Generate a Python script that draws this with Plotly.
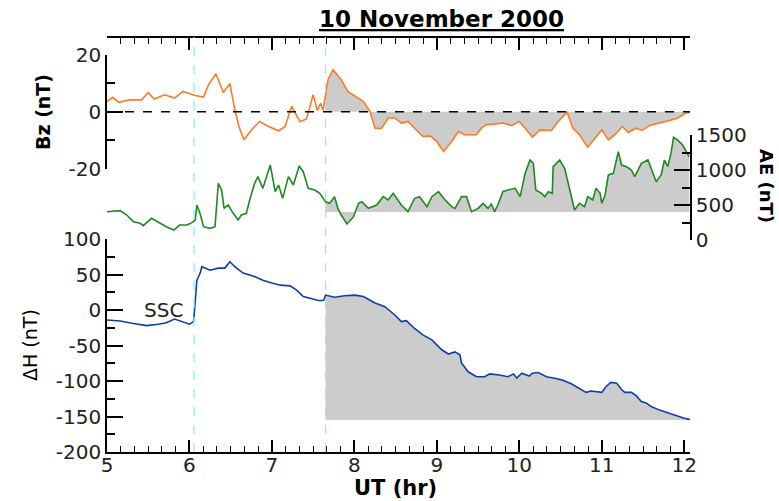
import plotly.graph_objects as go

# --- data (UT hours) --------------------------------------------------------
BZ_T = [5.00, 5.07, 5.14, 5.28, 5.42, 5.50, 5.57, 5.70, 5.82, 5.92, 6.07, 6.17,
        6.23, 6.32, 6.41, 6.49, 6.55, 6.60, 6.66, 6.75, 6.85, 6.96, 7.08, 7.16,
        7.24, 7.29, 7.34, 7.42, 7.50, 7.55, 7.59, 7.62, 7.65, 7.68, 7.74, 7.84,
        7.92, 8.01, 8.11, 8.19, 8.25, 8.33, 8.41, 8.49, 8.57, 8.65, 8.75, 8.83,
        8.92, 9.00, 9.08, 9.18, 9.26, 9.34, 9.48, 9.54, 9.60, 9.70, 9.80, 9.91,
        10.00, 10.07, 10.16, 10.25, 10.39, 10.47, 10.58, 10.65, 10.73, 10.83,
        10.92, 11.00, 11.08, 11.16, 11.25, 11.32, 11.41, 11.49, 11.58, 11.70,
        11.82, 11.92, 12.00, 12.07]
BZ_NT = [3.6, 5.1, 3.3, 4.2, 4.2, 6.8, 4.5, 6.0, 4.8, 7.2, 5.7, 5.2,
         9.5, 13.4, 6.8, 9.9, 0.7, -5.2, -9.9, -6.4, -3.4, -5.2, -6.7, -5.2,
         1.9, -1.0, -3.5, -2.5, 6.0, 0.5, 3.0, 0.5, 6.0, 11.3, 14.8, 11.3,
         7.2, 5.4, 3.6, 0.1, -5.8, -5.8, -2.2, -2.2, -4.0, -3.4, -6.4, -8.7,
         -8.5, -10.5, -14.0, -10.5, -7.0, -8.1, -8.1, -5.8, -4.6, -4.3, -4.0, -4.9,
         -3.4, -5.8, -8.9, -6.4, -6.6, -3.4, -0.2, -5.8, -8.1, -12.5,
         -9.3, -6.4, -9.9, -8.1, -5.2, -7.3, -5.8, -6.6, -4.8, -4.0,
         -3.1, -2.2, -0.7, -0.2]

AE_T = [5.00, 5.16, 5.24, 5.32, 5.40, 5.44, 5.54, 5.64, 5.72, 5.81, 5.88, 5.97,
        6.03, 6.07, 6.09, 6.13, 6.17, 6.25, 6.31, 6.35, 6.39, 6.42, 6.47, 6.53,
        6.59, 6.63, 6.69, 6.73, 6.79, 6.83, 6.89, 6.98, 7.04, 7.08, 7.13, 7.20,
        7.26, 7.33, 7.38, 7.44, 7.52, 7.58, 7.65, 7.70, 7.76, 7.80, 7.84, 7.91,
        7.99, 8.05, 8.09, 8.17, 8.27, 8.35, 8.41, 8.47, 8.57, 8.65, 8.73, 8.79,
        8.88, 8.94, 9.02, 9.10, 9.18, 9.22, 9.30, 9.36, 9.42, 9.50, 9.56, 9.62,
        9.66, 9.70, 9.74, 9.80, 9.86, 9.95, 10.01, 10.07, 10.13, 10.17, 10.20,
        10.27, 10.31, 10.35, 10.40, 10.41, 10.49, 10.55, 10.61, 10.67, 10.73,
        10.79, 10.83, 10.89, 10.93, 10.98, 11.00, 11.04, 11.08, 11.14, 11.20,
        11.24, 11.30, 11.36, 11.40, 11.48, 11.56, 11.62, 11.66, 11.72, 11.76,
        11.80, 11.84, 11.87, 11.92, 11.98, 12.06]
AE_NT = [404, 419, 357, 262, 238, 205, 310, 238, 190, 143, 214, 214,
         248, 286, 500, 371, 190, 167, 190, 810, 714, 452, 500, 381,
         286, 357, 381, 571, 810, 905, 738, 1071, 690, 786, 595, 905,
         786, 1057, 976, 738, 714, 667, 545, 524, 619, 452, 357, 229,
         333, 524, 548, 452, 500, 619, 571, 667, 500, 405, 595, 619,
         476, 619, 690, 571, 476, 452, 619, 619, 405, 452, 524, 452,
         514, 405, 500, 690, 714, 738, 619, 952, 1143, 1095, 714,
         667, 619, 690, 667, 1048, 1143, 1024, 738, 429, 524,
         476, 619, 571, 738, 667, 524, 643, 929, 952, 1262,
         1071, 1048, 1000, 905, 1095, 1143, 952, 833, 929, 1143,
         1048, 1238, 1467, 1429, 1357, 1190]

DH_T = [5.00, 5.16, 5.32, 5.48, 5.62, 5.72, 5.82, 5.91, 6.00, 6.05, 6.07, 6.09,
        6.13, 6.15, 6.25, 6.35, 6.43, 6.49, 6.55, 6.65, 6.77, 6.89, 7.00, 7.10,
        7.22, 7.30, 7.38, 7.48, 7.58, 7.63, 7.65, 7.76, 7.88, 8.01, 8.11, 8.25,
        8.37, 8.49, 8.57, 8.63, 8.73, 8.83, 8.94, 9.06, 9.14, 9.22, 9.28, 9.30,
        9.38, 9.48, 9.58, 9.64, 9.76, 9.86, 9.93, 9.97, 10.03, 10.12, 10.16,
        10.23, 10.33, 10.43, 10.53, 10.63, 10.71, 10.81, 10.87, 11.00, 11.05,
        11.11, 11.18, 11.24, 11.28, 11.36, 11.42, 11.48, 11.54, 11.60, 11.70,
        11.82, 11.92, 12.00, 12.07]
DH_NT = [-14, -15.5, -19, -22, -20, -18, -12.7, -16.4, -20, -16.4, 14, 42,
         52, 61, 56, 59, 59, 68, 61, 52, 48, 42, 38, 35,
         34, 28, 19, 16.5, 13, 14, 21, 18, 20, 21, 19, 10,
         4.7, -7, -16.4, -15, -26, -35, -42, -56, -62, -59, -63, -75,
         -87, -94, -94, -90, -91.5, -94, -90, -96, -89, -93, -89,
         -88, -94, -96, -99, -104, -109, -116, -114, -116, -108,
         -102, -103, -112, -116, -116, -121, -129, -131, -136, -141,
         -146, -150, -152.5, -154]

EVENT_TIMES = [6.055, 7.65]     # SSC and start of shaded interval
FILL_START = 7.65
BZ_BASE = 0
AE_BASE = 400
DH_BASE = -155

X_RANGE = [5, 12.07]
BZ_TICKS = [-20, 0, 20]
AE_TICKS = [0, 500, 1000, 1500]
DH_TICKS = [-200, -150, -100, -50, 0, 50, 100]

FONT = "DejaVu Sans, Arial, sans-serif"
FILL = "#CCCCCC"


def _after(t, v, t0):
    pairs = [(a, b) for a, b in zip(t, v) if a >= t0]
    return [p[0] for p in pairs], [p[1] for p in pairs]


def _shaded(fig, t, v, base, yaxis):
    ft, fv = _after(t, v, FILL_START)
    fig.add_trace(go.Scatter(x=ft, y=[base] * len(ft), mode="lines",
                             line=dict(width=0), yaxis=yaxis, hoverinfo="skip"))
    fig.add_trace(go.Scatter(x=ft, y=fv, mode="lines", line=dict(width=0),
                             fill="tonexty", fillcolor=FILL, yaxis=yaxis,
                             hoverinfo="skip"))


fig = go.Figure()
_shaded(fig, BZ_T, BZ_NT, BZ_BASE, "y")
_shaded(fig, AE_T, AE_NT, AE_BASE, "y2")
_shaded(fig, DH_T, DH_NT, DH_BASE, "y3")

fig.add_trace(go.Scatter(x=BZ_T, y=BZ_NT, mode="lines", yaxis="y",
                         line=dict(color="#FF7A21", width=1.6)))
fig.add_trace(go.Scatter(x=AE_T, y=AE_NT, mode="lines", yaxis="y2",
                         line=dict(color="#1E8A1E", width=1.6)))
fig.add_trace(go.Scatter(x=DH_T, y=DH_NT, mode="lines", yaxis="y3",
                         line=dict(color="#0D3FA6", width=1.6)))
# keeps the top (mirror) time axis alive
fig.add_trace(go.Scatter(x=X_RANGE, y=[0, 0], mode="lines", xaxis="x2",
                         yaxis="y3", line=dict(width=0), hoverinfo="skip"))

for t in EVENT_TIMES:
    fig.add_shape(type="line", xref="x", yref="paper", x0=t, x1=t, y0=0, y1=1,
                  line=dict(color="#7FF3FF", width=1.3, dash="dash"))
fig.add_shape(type="line", xref="paper", yref="y", x0=0, x1=1, y0=0, y1=0,
              line=dict(color="black", width=1.4, dash="dash"))

tickfont = dict(family=FONT, size=20, color="#222222")
axis_common = dict(showline=True, linecolor="black", linewidth=1.5,
                   showgrid=False, zeroline=False, automargin=False,
                   tickcolor="black", tickwidth=1.5, tickfont=tickfont)


# plot box in pixels: x 107..690, y 37..452 (height 415)
def _dom(top_px, bottom_px):
    return [(452 - bottom_px) / 415, (452 - top_px) / 415]


def _yticks(vals):
    # plain hyphen minus, as in the original
    return dict(tickvals=vals, ticktext=[str(v) for v in vals])


fig.update_layout(
    template="none",
    width=779, height=501,
    margin=dict(l=107, r=89, t=37, b=49),
    paper_bgcolor="white", plot_bgcolor="rgba(0,0,0,0)",
    showlegend=False,
    font=dict(family=FONT, color="black"),
    xaxis=dict(range=X_RANGE, domain=[0, 1], anchor="y3", ticks="inside",
               ticklen=12, tick0=5, dtick=1, ticklabelstandoff=-6,
               minor=dict(ticks="inside", ticklen=6, dtick=1 / 6,
                          tickcolor="black", tickwidth=1.2),
               **axis_common),
    xaxis2=dict(range=X_RANGE, overlaying="x", anchor="free", position=1,
                side="top", ticks="inside", ticklen=12, tick0=5, dtick=1,
                showticklabels=False,
                minor=dict(ticks="inside", ticklen=6, dtick=1 / 6,
                           tickcolor="black", tickwidth=1.2),
                **axis_common),
    yaxis=dict(range=[-20, 20], domain=_dom(55, 168.5), anchor="x",
               ticks="inside", ticklen=16, **_yticks(BZ_TICKS),
               minor=dict(ticks="inside", ticklen=8, dtick=10,
                          tickcolor="black", tickwidth=1.5),
               **axis_common),
    yaxis2=dict(range=[0, 1500], domain=_dom(135, 240), anchor="x",
                side="right", ticks="inside", ticklen=16, **_yticks(AE_TICKS),
                minor=dict(ticks="inside", ticklen=8, dtick=250,
                           tickcolor="black", tickwidth=1.5),
                **axis_common),
    yaxis3=dict(range=[-200, 100], domain=_dom(239, 452), anchor="x",
                ticks="inside", ticklen=16, **_yticks(DH_TICKS),
                minor=dict(ticks="inside", ticklen=8, dtick=25,
                           tickcolor="black", tickwidth=1.5),
                **axis_common),
)


def _px(x):
    return (x - 107) / 583


def _py(y):
    return (452 - y) / 415


labels = [
    dict(text="<b><u>10 November 2000</u></b>", x=_px(441), y=_py(19), size=23,
         angle=0),
    dict(text="<b>Bz (nT)</b>", x=_px(43), y=_py(112), size=19, angle=-90),
    dict(text="ΔH (nT)", x=_px(30), y=_py(345), size=19, angle=-90),
    dict(text="<b>AE (nT)</b>", x=_px(767), y=_py(186), size=18, angle=90),
    dict(text="<b>UT (hr)</b>", x=_px(395), y=_py(488), size=21, angle=0),
]
for lab in labels:
    fig.add_annotation(text=lab["text"], xref="paper", yref="paper",
                       x=lab["x"], y=lab["y"], xanchor="center",
                       yanchor="middle", showarrow=False,
                       textangle=lab["angle"],
                       font=dict(family=FONT, size=lab["size"], color="black"))

fig.add_annotation(text="SSC", xref="x", yref="y3", x=5.68, y=0,
                   showarrow=False, xanchor="center", yanchor="middle",
                   font=dict(family=FONT, size=20, color="#222222"))

# drop the browser's default 8 px body margin so the figure fills the window
fig.write_html("out.html", config={"displayModeBar": False},
               post_script="document.body.style.margin = '0';")
